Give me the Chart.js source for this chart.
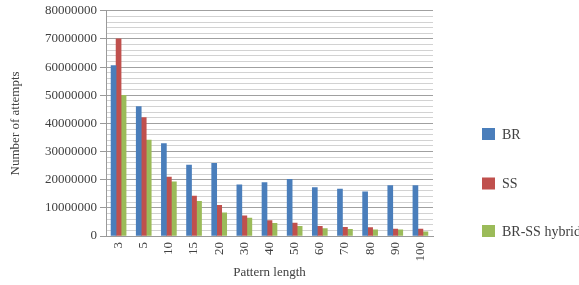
<!DOCTYPE html>
<html>
<head>
<meta charset="utf-8">
<script src="https://cdn.jsdelivr.net/npm/chart.js@4/dist/chart.umd.min.js"></script>
<style>
html,body{margin:0;padding:0;background:#fff;}
#wrap{width:579px;height:285px;position:relative;}
</style>
</head>
<body>
<div id="wrap"><canvas id="c" width="579" height="285"></canvas></div>
<script>
const categories = ['3','5','10','15','20','30','40','50','60','70','80','90','100'];
const brValues = [60500000, 46000000, 32800000, 25200000, 25800000, 18200000, 19000000, 20100000, 17200000, 16700000, 15700000, 17900000, 17900000];
const ssValues = [70000000, 42100000, 20900000, 14200000, 10900000, 7200000, 5500000, 4600000, 3400000, 3100000, 3000000, 2500000, 2500000];
const hybridValues = [50000000, 34100000, 19200000, 12300000, 8200000, 6400000, 4500000, 3400000, 2600000, 2400000, 2200000, 2200000, 1500000];
const seriesNames = ['BR', 'SS', 'BR-SS hybrid'];
const seriesColors = ['#4A7EBB', '#C0504D', '#9BBB59'];
const yTickValues = [0, 10000000, 20000000, 30000000, 40000000, 50000000, 60000000, 70000000, 80000000];

const FONT = "'Liberation Serif', 'Times New Roman', serif";
const TXT = '#404040';

const legendPlugin = {
  id: 'sideLegend',
  afterDraw(chart) {
    const ctx = chart.ctx;
    const ys = [134, 183.5, 231];
    ctx.save();
    ctx.font = '14px ' + FONT;
    ctx.textBaseline = 'middle';
    ctx.textAlign = 'left';
    chart.data.datasets.forEach((ds, i) => {
      ctx.fillStyle = ds.backgroundColor;
      ctx.fillRect(482, ys[i] - 6, 13, 12);
      ctx.fillStyle = TXT;
      ctx.fillText(ds.label, 502, ys[i] + 1);
    });
    ctx.restore();
  }
};

new Chart(document.getElementById('c'), {
  type: 'bar',
  data: {
    labels: categories,
    datasets: [
      {label: seriesNames[0], data: brValues, backgroundColor: seriesColors[0], barThickness: 5},
      {label: seriesNames[1], data: ssValues, backgroundColor: seriesColors[1], barThickness: 5},
      {label: seriesNames[2], data: hybridValues, backgroundColor: seriesColors[2], barThickness: 5}
    ]
  },
  options: {
    responsive: false,
    animation: false,
    devicePixelRatio: 1,
    layout: {padding: {left: 0, right: 146, top: 8, bottom: 0}},
    plugins: {
      legend: {display: false},
      tooltip: {enabled: false}
    },
    scales: {
      x: {
        grid: {display: false, drawTicks: false},
        border: {display: true, color: '#9a9a9a'},
        ticks: {
          color: TXT, font: {family: FONT, size: 13},
          minRotation: 90, maxRotation: 90, padding: 6, autoSkip: false
        },
        title: {display: true, text: 'Pattern length', color: TXT, font: {family: FONT, size: 13}, padding: {top: 0, bottom: 5}},
        afterFit(scale) { scale.height = 49; }
      },
      y: {
        min: 0, max: 80000000,
        grid: {
          color: (c) => (c.tick && c.tick.value % 10000000 === 0) ? '#a0a0a0' : '#d2d2d2',
          tickColor: (c) => (c.tick && c.tick.value % 10000000 === 0) ? '#9a9a9a' : 'rgba(0,0,0,0)',
          tickLength: 6,
          lineWidth: 1
        },
        border: {display: true, color: '#9a9a9a'},
        ticks: {
          stepSize: 2000000,
          autoSkip: false,
          padding: 3,
          color: TXT,
          font: {family: FONT, size: 13},
          callback: (v) => yTickValues.includes(v) ? String(v) : ''
        },
        title: {display: true, text: 'Number of attempts', color: TXT, font: {family: FONT, size: 13}, padding: {top: 8, bottom: 0}},
        afterFit(scale) { scale.width = 106; }
      }
    }
  },
  plugins: [legendPlugin]
});
</script>
</body>
</html>
